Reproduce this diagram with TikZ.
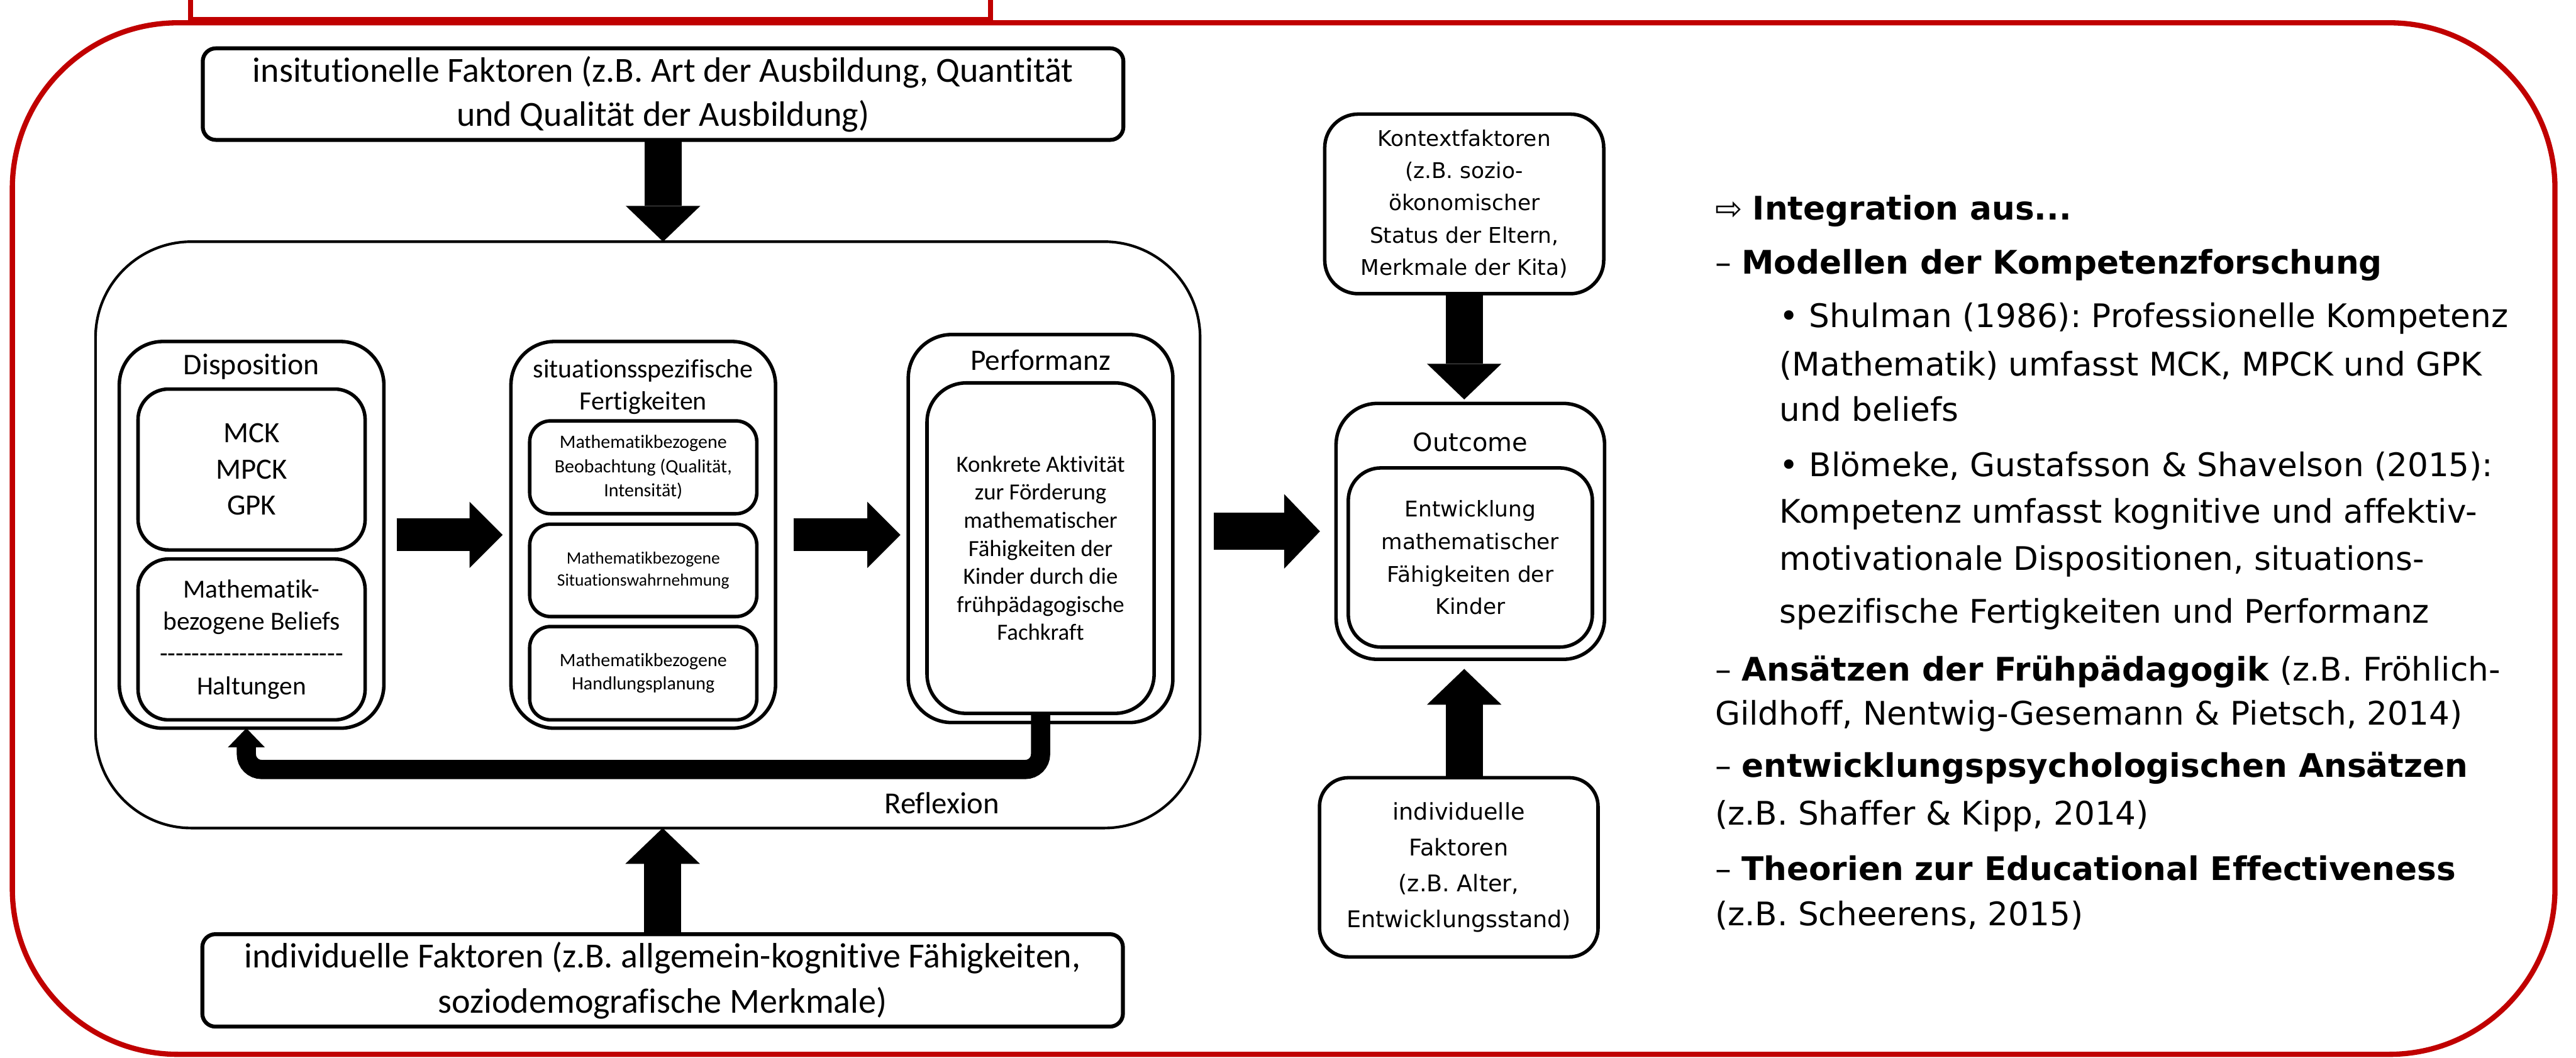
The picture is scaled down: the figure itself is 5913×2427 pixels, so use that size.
\documentclass[tikz,border=0pt]{standalone}
\usepackage{fontspec}
\newfontfamily\calfont{Carlito}[Ligatures={TeX,NoCommon}]
\newfontfamily\verfont{DejaVu Sans}[Ligatures={TeX,NoCommon}]
\usetikzlibrary{arrows.meta,calc}
\definecolor{framered}{RGB}{192,0,0}
\newcommand\fsz[2]{\fontsize{#1}{#2}\selectfont}
\newcommand\hy{-\kern0pt}
\frenchspacing
\begin{document}
\begin{tikzpicture}[x=0.01cm,y=-0.01cm,
  box/.style={draw, line width=0.08cm, inner sep=0pt, outer sep=0pt, align=center},
  lbl/.style={inner sep=0pt, outer sep=0pt, align=center},
  rtext/.style={anchor=base west, inner sep=0pt, outer sep=0pt, font=\verfont\fsz{21.2}{25}},
  blockh/.style={line width=0.75cm, -{Triangle[length=0.76cm,width=1.52cm,line width=0pt]}},
  blockv/.style={line width=0.85cm, -{Triangle[length=0.82cm,width=1.71cm,line width=0pt]}},
  reflarrow/.style={line width=0.44cm, rounded corners=0.35cm, -{Triangle[length=0.44cm,width=0.85cm,line width=0pt]}}
]
\useasboundingbox (0,0) rectangle (5913,2427);

% red frame
\node[draw=framered, line width=0.12cm, inner sep=0pt, outer sep=0pt, rounded corners=3.8cm,
      minimum width=58.33cm, minimum height=23.66cm] (frame) at (2946.5,1236) {};
\node[draw=framered, line width=0.11cm, inner sep=0pt, outer sep=0pt,
      minimum width=18.35cm, minimum height=1.04cm] (toprect) at (1355.5,-8) {};

% left part
\node[box, line width=0.09cm, rounded corners=0.3cm, minimum width=21.12cm, minimum height=2.10cm,
      font=\calfont\fsz{23}{28.6}] (inst) at (1522,216)
  {insitutionelle Faktoren (z.B. Art der Ausbildung, Quantität\\und Qualität der Ausbildung)};
\node[box, line width=0.09cm, rounded corners=0.3cm, minimum width=21.12cm, minimum height=2.12cm,
      font=\calfont\fsz{23}{29.4}] (bot) at (1521,2250)
  {individuelle Faktoren (z.B. allgemein-kognitive Fähigkeiten,\\soziodemografische Merkmale)};

\node[box, line width=0.06cm, rounded corners=2.2cm, minimum width=25.34cm, minimum height=13.45cm] (main) at (1487,1227.5) {};

\node[box, rounded corners=1.0cm, minimum width=6.07cm, minimum height=8.87cm] (disp) at (577.5,1227.5) {};
\node[lbl, font=\calfont\fsz{19.6}{23}] (disptitle) at (577.5,842) {Disposition};
\node[box, rounded corners=0.7cm, minimum width=5.21cm, minimum height=3.69cm,
      font=\calfont\fsz{19.2}{23.6}] (mck) at (577.5,1077.5) {MCK\\MPCK\\GPK};
\node[box, rounded corners=0.7cm, minimum width=5.21cm, minimum height=3.69cm,
      font=\calfont\fsz{17}{21}] (bel) at (577.5,1467.5)
  {Mathematik-\\bezogene Beliefs\\\hy\hy\hy\hy\hy\hy\hy\hy\hy\hy\hy\hy\hy\hy\hy\hy\hy\hy\hy\hy\hy\hy\hy\\Haltungen};

\node[box, rounded corners=1.0cm, minimum width=6.07cm, minimum height=8.87cm] (sit) at (1476.5,1227.5) {};
\node[lbl, font=\calfont\fsz{17.2}{20.8}] (sittitle) at (1476.5,887.5) {situationsspezifische\\Fertigkeiten};
\node[box, rounded corners=0.48cm, minimum width=5.21cm, minimum height=2.13cm,
      font=\calfont\fsz{12.3}{15.8}] (sub1) at (1476.5,1072.5)
  {Mathematikbezogene\\Beobachtung (Qualität,\\Intensität)};
\node[box, rounded corners=0.48cm, minimum width=5.21cm, minimum height=2.12cm,
      font=\calfont\fsz{11.3}{14.5}] (sub2) at (1476.5,1309)
  {Mathematikbezogene\\Situationswahrnehmung};
\node[box, rounded corners=0.48cm, minimum width=5.21cm, minimum height=2.14cm,
      font=\calfont\fsz{12.3}{15.1}] (sub3) at (1476.5,1545)
  {Mathematikbezogene\\Handlungsplanung};

\node[box, rounded corners=1.0cm, minimum width=6.07cm, minimum height=8.90cm] (perf) at (2388.5,1213) {};
\node[lbl, font=\calfont\fsz{19.4}{23}] (perftitle) at (2388.5,826) {Performanz};
\node[box, rounded corners=0.9cm, minimum width=5.21cm, minimum height=7.58cm,
      font=\calfont\fsz{15.1}{18.3}] (perfin) at (2388.5,1258)
  {Konkrete Aktivität\\zur Förderung\\mathematischer\\Fähigkeiten der\\Kinder durch die\\frühpädagogische\\Fachkraft};

\node[lbl, font=\calfont\fsz{20}{24}] (refltext) at (2162,1843) {Reflexion};

% right diagram part
\node[box, rounded corners=0.77cm, minimum width=6.40cm, minimum height=4.12cm,
      font=\verfont\fsz{14.1}{21.05}] (kontext) at (3361,468)
  {Kontextfaktoren\\(z.B. sozio-\\ökonomischer\\Status der Eltern,\\Merkmale der Kita)};
\node[box, rounded corners=0.95cm, minimum width=6.16cm, minimum height=5.87cm] (outcome) at (3375,1219.5) {};
\node[lbl, font=\verfont\fsz{16.4}{20}] (outtitle) at (3375,1015) {Outcome};
\node[box, rounded corners=0.75cm, minimum width=5.60cm, minimum height=4.11cm,
      font=\verfont\fsz{14.1}{21.3}] (outin) at (3375,1279.5)
  {Entwicklung\\mathematischer\\Fähigkeiten der\\Kinder};
\node[box, rounded corners=0.66cm, minimum width=6.39cm, minimum height=4.11cm,
      font=\verfont\fsz{15}{23.3}] (indiv) at (3348.5,1990.5)
  {individuelle\\Faktoren\\(z.B. Alter,\\Entwicklungsstand)};

% block arrows
\draw[blockv] (inst.south) -- (inst.south |- main.north);
\draw[blockv] (bot.north) -- (bot.north |- main.south);
\draw[blockh, shorten <=0.29cm, shorten >=0.19cm] (disp.east) -- (sit.west);
\draw[blockh, shorten <=0.41cm, shorten >=0.18cm] (sit.east) -- (sit.east -| perf.west);
\draw[blockv, shorten <=0.32cm, shorten >=0.37cm] (main.east |- outcome.west) -- (outcome.west);
\draw[blockv, shorten >=0.09cm] (kontext.south) -- (kontext.south |- outcome.north);
\draw[blockv, shorten >=0.22cm] (kontext.south |- indiv.north) -- (kontext.south |- outcome.south);

% reflexion loop
\coordinate (rl) at (0,1766);
\coordinate (dispin) at ([xshift=-0.12cm]disp.south);
\draw[reflarrow] (perfin.south) -- (perfin.south |- rl) -- (dispin |- rl) -- (dispin);

% right text column
\node[rtext] (t1) at (3937,505) {⇨ \textbf{Integration aus...}};
\node[rtext] (t2) at (3937,629) {– \textbf{Modellen der Kompetenzforschung}};
\node[rtext] (t3) at (4085,752) {• Shulman (1986): Professionelle Kompetenz};
\node[rtext] (t4) at (4085,862) {(Mathematik) umfasst MCK, MPCK und GPK};
\node[rtext] (t5) at (4085,967) {und beliefs};
\node[rtext] (t6) at (4085,1093) {• Blömeke, Gustafsson \& Shavelson (2015):};
\node[rtext] (t7) at (4085,1200) {Kompetenz umfasst kognitive und affektiv-};
\node[rtext] (t8) at (4085,1308) {motivationale Dispositionen, situations-};
\node[rtext] (t9) at (4085,1430) {spezifische Fertigkeiten und Performanz};
\node[rtext] (t10) at (3937,1562) {– \textbf{Ansätzen der Frühpädagogik} (z.B. Fröhlich-};
\node[rtext] (t11) at (3937,1664) {Gildhoff, Nentwig-Gesemann \& Pietsch, 2014)};
\node[rtext] (t12) at (3937,1784) {– \textbf{entwicklungspsychologischen Ansätzen}};
\node[rtext] (t13) at (3937,1893) {(z.B. Shaffer \& Kipp, 2014)};
\node[rtext] (t14) at (3937,2021) {– \textbf{Theorien zur Educational Effectiveness}};
\node[rtext] (t15) at (3937,2124) {(z.B. Scheerens, 2015)};
\end{tikzpicture}
\end{document}
